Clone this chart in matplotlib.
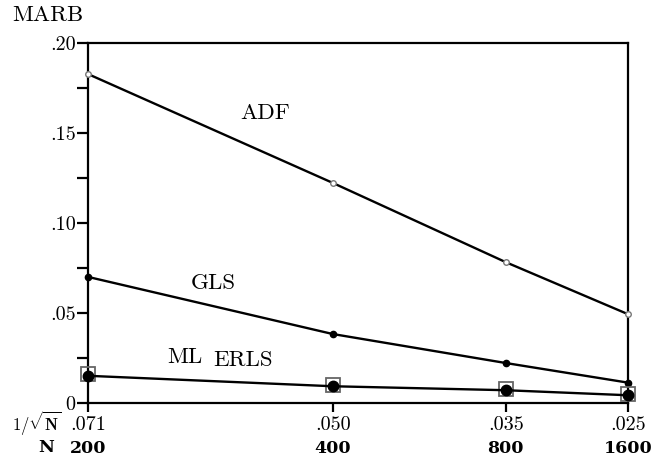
import numpy as np
import matplotlib
matplotlib.use("Agg")
import matplotlib.pyplot as plt
import matplotlib.transforms as mtransforms

plt.rcParams["font.family"] = "cmr10"
plt.rcParams["mathtext.fontset"] = "cm"
plt.rcParams["axes.formatter.use_mathtext"] = True

# sample sizes and mean absolute relative bias per estimator
n_vals = [200, 400, 800, 1600]
x_ticklabels = [".071", ".050", ".035", ".025"]
adf = [0.1826, 0.1222, 0.0782, 0.0493]
gls = [0.0700, 0.0383, 0.0222, 0.0113]
ml = [0.0151, 0.0093, 0.0071, 0.0043]
erls = [0.0160, 0.0100, 0.0080, 0.0050]
y_ticks = [0, 0.05, 0.10, 0.15, 0.20]
y_ticklabels = ["0", ".05", ".10", ".15", ".20"]

x = 1 / np.sqrt(np.array(n_vals, dtype=float))

fig = plt.figure(figsize=(6.55, 4.62), dpi=100)
ax = fig.add_axes([88 / 655, 59 / 462, 540 / 655, 360.3 / 462])

ax.plot(x, adf, color="black", lw=1.7, marker="o", ms=4, mfc="white",
        mec="#777777", mew=1.0, zorder=3, clip_on=False)
ax.plot(x, gls, color="black", lw=1.7, marker="o", ms=4.5, mfc="black",
        mec="black", zorder=3, clip_on=False)
ax.plot(x, erls, ls="none", marker="s", ms=9.5, mfc="none",
        mec="#666666", mew=1.3, zorder=3, clip_on=False)
ax.plot(x, ml, color="black", lw=1.7, marker="o", ms=7.5, mfc="black",
        mec="black", zorder=4, clip_on=False)

ax.set_xlim(x[0], x[-1])
ax.set_ylim(0, 0.20)
ax.set_xticks(x)
ax.set_xticklabels(x_ticklabels)
ax.set_yticks(y_ticks)
ax.set_yticklabels(y_ticklabels)
ax.set_yticks(np.arange(0.025, 0.2, 0.05), minor=True)

for s in ax.spines.values():
    s.set_linewidth(1.6)
ax.tick_params(axis="y", which="both", direction="out", length=8, width=1.6,
               labelsize=14.5, pad=1)
ax.tick_params(axis="x", direction="out", length=6.5, width=1.6,
               labelsize=14.5, pad=3)

trans = mtransforms.blended_transform_factory(ax.transData, ax.transAxes)
for xv, n in zip(x, n_vals):
    ax.text(xv, -0.125, str(n), transform=trans, ha="center", va="center",
            family="DejaVu Serif", weight="bold", fontsize=12.5)

ax.text(0.0557, 0.161, "ADF", ha="center", va="center", fontsize=16.5)
ax.text(0.0601, 0.0665, "GLS", ha="center", va="center", fontsize=16.5)
ax.text(0.0625, 0.0255, "ML", ha="center", va="center", fontsize=16.5)
ax.text(0.0576, 0.0237, "ERLS", ha="center", va="center", fontsize=16.5)

fig.text(48 / 655, 1 - 15 / 462, "MARB", ha="center", va="center", fontsize=16.5)
fig.text(37 / 655, 1 - 423 / 462, r"$1/\sqrt{\mathbf{N}}$", ha="center",
         va="center", fontsize=12)
fig.text(46 / 655, 1 - 448 / 462, "N", ha="center", va="center",
         family="DejaVu Serif", weight="bold", fontsize=12.5)

fig.savefig("out.png", dpi=100)
